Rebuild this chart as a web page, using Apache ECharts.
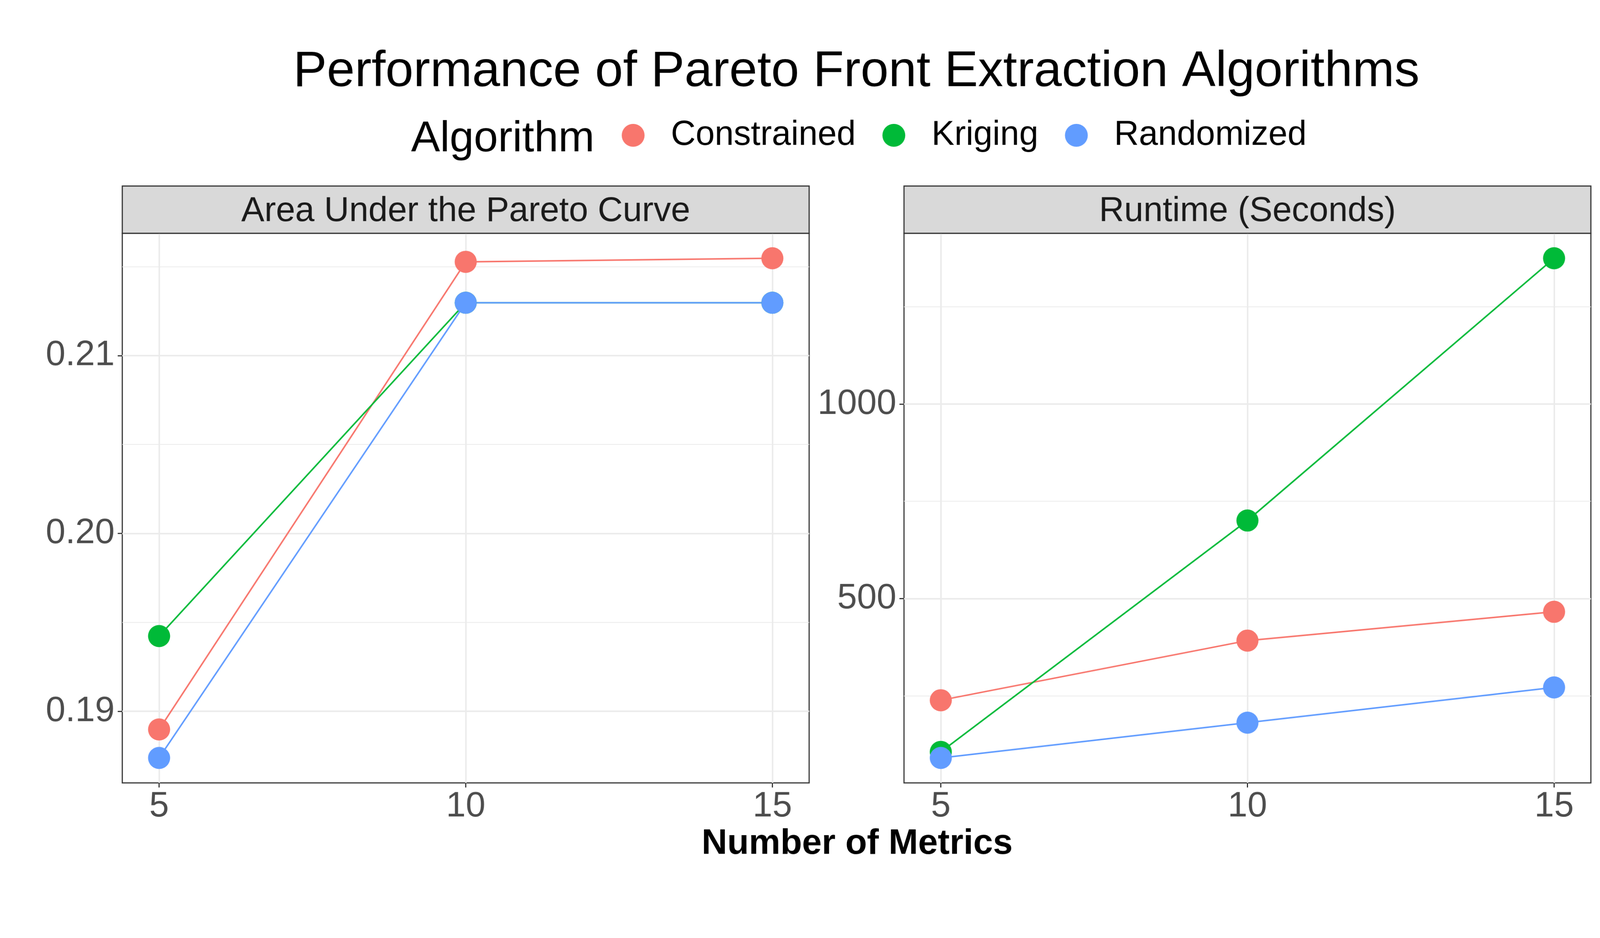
<!DOCTYPE html>
<html>
<head>
<meta charset="utf-8">
<title>Performance of Pareto Front Extraction Algorithms</title>
<script src="https://cdn.jsdelivr.net/npm/echarts@6.0.0/dist/echarts.min.js"></script>
<style>
  html, body { margin: 0; padding: 0; background: #ffffff; overflow: hidden; }
  #chart-container { width: 4200px; height: 2400px; transform-origin: 0 0; }
</style>
</head>
<body>
<div id="chart-container"></div>
<script>
// data
var metrics = [5, 10, 15];
var algorithms = ["Constrained", "Kriging", "Randomized"];
var colors = ["#F8766D", "#00BA38", "#619CFF"];

var aucConstrained = [0.18898, 0.21527, 0.21547];
var aucKriging = [0.19423, 0.21297, 0.21297];
var aucRandomized = [0.18738, 0.21297, 0.21297];

var runtimeConstrained = [238.7, 392, 466];
var runtimeKriging = [106, 700.6, 1374.6];
var runtimeRandomized = [90.5, 181, 271.6];

var aucTicks = [0.19, 0.2, 0.21];
var aucMinorTicks = [0.195, 0.205, 0.215];
var runtimeTicks = [500, 1000];
var runtimeMinorTicks = [250, 750, 1250];

var panelTitles = ["Area Under the Pareto Curve", "Runtime (Seconds)"];
var chartTitle = "Performance of Pareto Front Extraction Algorithms";
var legendTitle = "Algorithm";
var xTitle = "Number of Metrics";

var FONT = "Liberation Sans";

var dom = document.getElementById("chart-container");
// the visible viewport can be a bit smaller than 4200x2400, so fit the drawing into it
var fit = Math.min(window.innerWidth / 4200, window.innerHeight / 2400);
if (fit > 0 && fit < 1) dom.style.transform = "scale(" + fit + ")";

var myChart = echarts.init(dom, null, { renderer: "canvas" });

// ggplot-like 5% expansion of a data range
function expandRange(arrays) {
  var all = [].concat.apply([], arrays);
  var lo = Math.min.apply(null, all);
  var hi = Math.max.apply(null, all);
  var pad = (hi - lo) * 0.05;
  return [lo - pad, hi + pad];
}

var panels = [
  { left: 321, values: [aucConstrained, aucKriging, aucRandomized], ticks: aucTicks, minor: aucMinorTicks, digits: 2 },
  { left: 2373, values: [runtimeConstrained, runtimeKriging, runtimeRandomized], ticks: runtimeTicks, minor: runtimeMinorTicks, digits: 0 }
];
var gridTop = 612, gridWidth = 1803, gridHeight = 1442;

var grids = [], xAxes = [], yAxes = [], series = [], graphics = [];

panels.forEach(function (p, i) {
  var range = expandRange(p.values);
  grids.push({
    left: p.left, top: gridTop, width: gridWidth, height: gridHeight,
    show: true, backgroundColor: "#ffffff", borderColor: "#333333", borderWidth: 3
  });
  xAxes.push({
    type: "value", gridIndex: i, min: 4.4, max: 15.6,
    axisLine: { show: false },
    axisTick: { show: true, length: 12, customValues: metrics, lineStyle: { color: "#333333", width: 3 } },
    axisLabel: { customValues: metrics, fontSize: 93, fontFamily: FONT, color: "#4D4D4D", margin: 16 },
    splitLine: { show: true, lineStyle: { color: "#EBEBEB", width: 4 } }
  });
  yAxes.push({
    type: "value", gridIndex: i, min: range[0], max: range[1], position: "left",
    axisLine: { show: false },
    axisTick: { show: true, length: 12, customValues: p.ticks, lineStyle: { color: "#333333", width: 3 } },
    axisLabel: {
      customValues: p.ticks, fontSize: 93, fontFamily: FONT, color: "#4D4D4D", margin: 20,
      formatter: (function (d) { return function (v) { return v.toFixed(d); }; })(p.digits)
    },
    splitLine: { show: true, lineStyle: { color: "#EBEBEB", width: 4 } }
  });
  yAxes.push({
    type: "value", gridIndex: i, min: range[0], max: range[1], position: "left",
    axisLine: { show: false },
    axisTick: { show: false, customValues: p.minor },
    axisLabel: { show: false, customValues: p.minor },
    splitLine: { show: true, lineStyle: { color: "#EBEBEB", width: 2 } }
  });

  // lines first, then points (geom_line + geom_point)
  algorithms.forEach(function (name, k) {
    series.push({
      type: "line", name: name, xAxisIndex: i, yAxisIndex: i * 2,
      data: metrics.map(function (m, j) { return [m, p.values[k][j]]; }),
      showSymbol: false, z: 2,
      lineStyle: { color: colors[k], width: 4 }, itemStyle: { color: colors[k] }
    });
  });
  algorithms.forEach(function (name, k) {
    series.push({
      type: "scatter", name: name, xAxisIndex: i, yAxisIndex: i * 2,
      data: metrics.map(function (m, j) { return [m, p.values[k][j]]; }),
      symbol: "circle", symbolSize: 58, z: 3,
      itemStyle: { color: colors[k], opacity: 1 }
    });
  });

  // facet strip
  graphics.push({
    type: "rect", z: 10,
    shape: { x: p.left, y: 488, width: gridWidth, height: 124 },
    style: { fill: "#D9D9D9", stroke: "#333333", lineWidth: 3 }
  });
  graphics.push({
    type: "text", z: 11, x: p.left + gridWidth / 2, y: 555,
    style: { text: panelTitles[i], font: "91px '" + FONT + "'", fill: "#1A1A1A", textAlign: "center", textVerticalAlign: "middle" }
  });
});

graphics.push({
  type: "text", x: 2248, y: 190,
  style: { text: chartTitle, font: "132px '" + FONT + "'", fill: "#000000", textAlign: "center", textVerticalAlign: "middle" }
});
graphics.push({
  type: "text", x: 1079, y: 366,
  style: { text: legendTitle, font: "114px '" + FONT + "'", fill: "#000000", textAlign: "left", textVerticalAlign: "middle" }
});
graphics.push({
  type: "text", x: 2250, y: 2214,
  style: { text: xTitle, font: "bold 93px '" + FONT + "'", fill: "#000000", textAlign: "center", textVerticalAlign: "middle" }
});

var option = {
  backgroundColor: "#ffffff",
  animation: false,
  legend: {
    left: 1632, top: 310, padding: 0,
    orient: "horizontal",
    itemWidth: 60, itemHeight: 60, itemGap: 70,
    selectedMode: false,
    textStyle: { fontSize: 90, fontFamily: FONT, color: "#000000", padding: [0, 0, 0, 64] },
    data: algorithms.map(function (name, k) {
      return { name: name, icon: "circle", itemStyle: { color: colors[k] } };
    })
  },
  grid: grids,
  xAxis: xAxes,
  yAxis: yAxes,
  series: series,
  graphic: graphics
};

myChart.setOption(option);
window.addEventListener("resize", myChart.resize);
</script>
</body>
</html>
